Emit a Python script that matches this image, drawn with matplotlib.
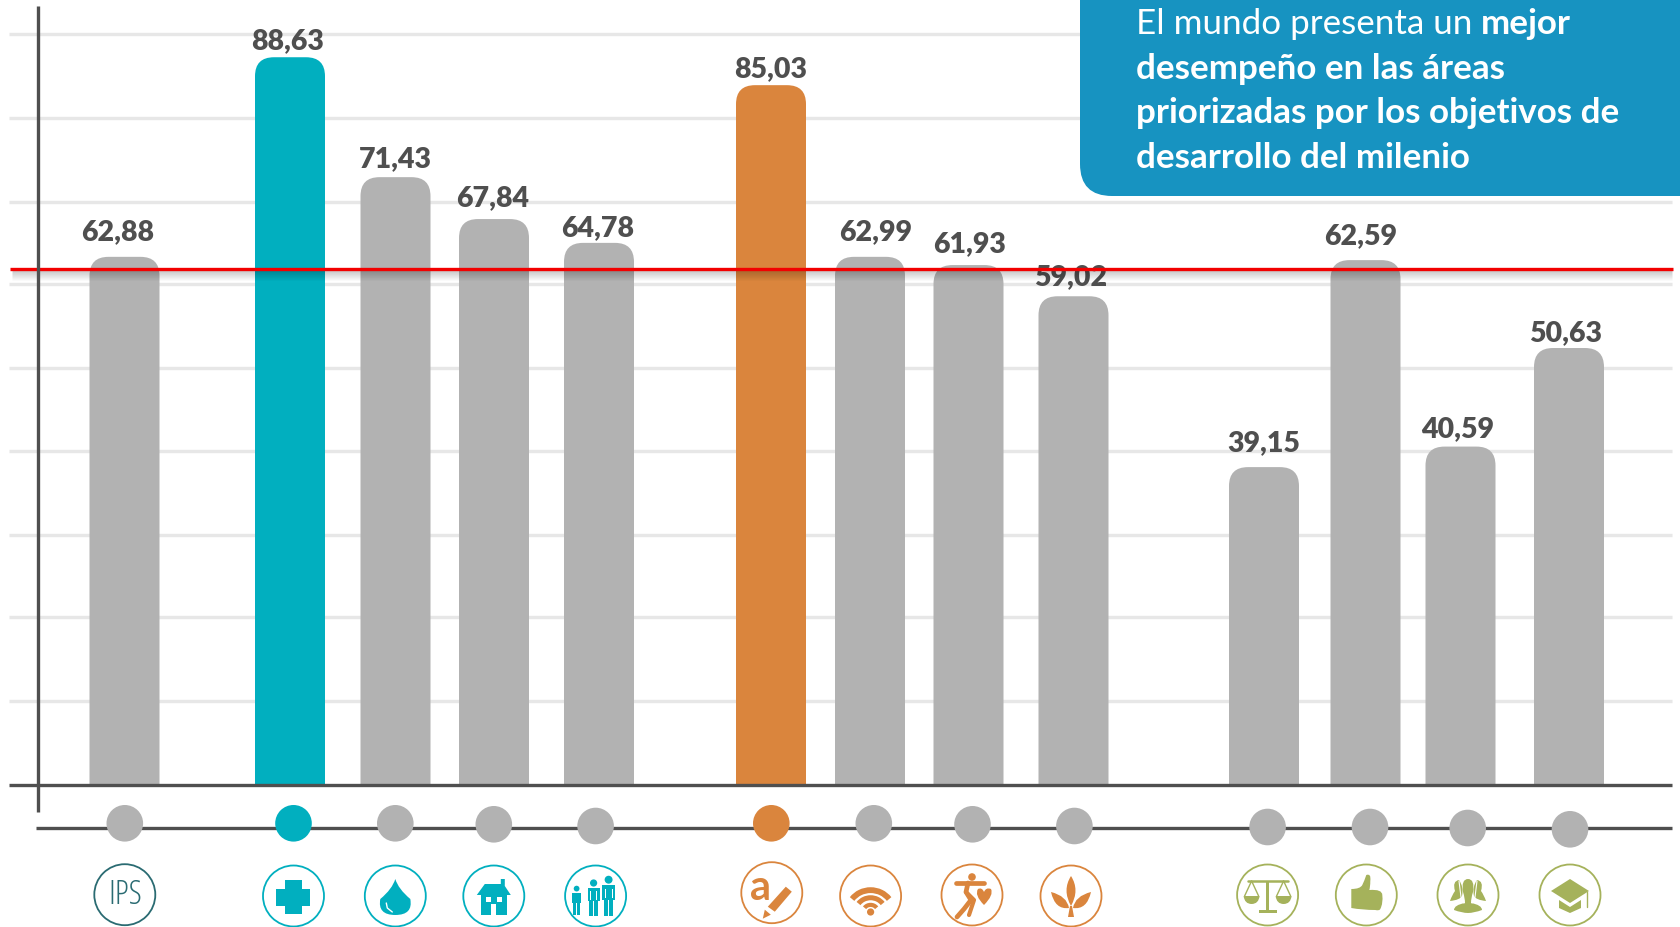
import matplotlib
matplotlib.use('Agg')
import matplotlib.pyplot as plt
from matplotlib.path import Path
from matplotlib.patches import PathPatch, Circle, Polygon, Rectangle, FancyBboxPatch, Arc

# values printed over the bars
labels = ['62,88', '88,63', '71,43', '67,84', '64,78', '85,03', '62,99', '61,93', '59,02',
          '39,15', '62,59', '40,59', '50,63']
# bar heights (the drawing does not follow its labels exactly)
heights = [64.3, 88.6, 74.0, 68.9, 66.0, 85.2, 64.3, 63.3, 59.5, 38.7, 63.9, 41.2, 53.2]
grid_levels = [10.2, 20.4, 30.4, 40.7, 50.8, 61.0, 71.0, 81.2, 91.4]
world_mean = 62.76

GRAY = '#B2B2B2'
TEAL = '#01AFBF'
ORANGE = '#DA853D'
GREEN = '#A5B25B'
DARK = '#4F4F4F'
IPS = '#2A6B72'
BOX = '#1793C1'
colors = [GRAY, TEAL, GRAY, GRAY, GRAY, ORANGE, GRAY, GRAY, GRAY, GRAY, GRAY, GRAY, GRAY]

# layout, in pixels of the 1681x927 picture
bar_x = [124.5, 290, 395.5, 494, 599, 771, 870, 968.5, 1073.5, 1264, 1365.5, 1460.5, 1569]
bar_w = 70
label_x = [118, 288, 395.5, 492.5, 598, 770.5, 875.5, 970, 1070.5, 1264, 1361, 1458, 1566]
label_up = [25, 16, 18, 21, 15, 16, 25, 21, 19, 24, 24, 17, 15]
dot_x = [124.8, 293.5, 395.3, 493.8, 595.6, 771.3, 873.8, 972.5, 1074.4, 1267.6, 1370, 1467.7, 1570]
dot_y = [823.3, 823.3, 823.3, 824.3, 826, 823.3, 823.3, 824.3, 826, 827, 827, 828, 829.3]
ring_x = [124.8, 293.5, 395.3, 493.8, 595.6, 771.8, 870.6, 972, 1071, 1267.6, 1366.3, 1468, 1570]
ring_y = [894.7, 896, 896, 896, 896, 892.7, 896, 895, 896, 895, 895, 895, 895]
ring_c = [IPS, TEAL, TEAL, TEAL, TEAL, ORANGE, ORANGE, ORANGE, ORANGE, GREEN, GREEN, GREEN, GREEN]

PX = 8.214  # pixels per unit of the bars
BASE = 785

plt.rcParams['font.family'] = ['Lato', 'DejaVu Sans']
fig = plt.figure(figsize=(16.81, 9.27), dpi=100)
ax = fig.add_axes([0, 0, 1, 1])
ax.set_xlim(0, 1681)
ax.set_ylim(-(927 - BASE) / PX, BASE / PX)
ax.axis('off')

# overlay in picture pixels, y going down
pa = fig.add_axes([0, 0, 1, 1])
pa.set_xlim(0, 1681)
pa.set_ylim(927, 0)
pa.axis('off')
pa.patch.set_alpha(0)


def rounded_bar(x, w, h, color, r=19):
    ry = r / PX
    l, t = x - w / 2, x + w / 2
    verts = [(l, 0), (l, h - ry), (l, h), (l + r, h), (t - r, h), (t, h), (t, h - ry), (t, 0), (l, 0)]
    codes = [Path.MOVETO, Path.LINETO, Path.CURVE3, Path.CURVE3, Path.LINETO,
             Path.CURVE3, Path.CURVE3, Path.LINETO, Path.CLOSEPOLY]
    ax.add_patch(PathPatch(Path(verts, codes), fc=color, ec='none', zorder=3))


for lv in grid_levels:
    ax.plot([9, 1672], [lv, lv], color='#E7E7E7', lw=2.4, solid_capstyle='butt', zorder=1)

for x, h, c in zip(bar_x, heights, colors):
    rounded_bar(x, bar_w, h, c)

for x, h, up, t in zip(label_x, heights, label_up, labels):
    ax.text(x, h + up / PX, t, ha='center', va='center', fontsize=20.5, fontweight='heavy',
            color=DARK, zorder=4)

# soft shadow under the red line
for i in range(1, 12):
    ax.plot([12, 1672], [world_mean - i / PX] * 2, color='black', alpha=0.22 * (1 - i / 12),
            lw=0.8, solid_capstyle='butt', zorder=5)
ax.plot([10, 1673], [world_mean, world_mean], color='#F20000', lw=2.4, solid_capstyle='butt', zorder=6)

# axes
ax.plot([9, 1672], [0, 0], color=DARK, lw=2.4, solid_capstyle='butt', zorder=7)
pa.plot([38.5, 38.5], [6, 812], color=DARK, lw=2.4, solid_capstyle='butt', zorder=1)
pa.plot([36.5, 1672], [827.7, 827.7], color=DARK, lw=2.4, solid_capstyle='butt', zorder=1)

for x, y, c in zip(dot_x, dot_y, colors):
    pa.add_patch(Circle((x, y), 18.3, fc=c, ec='none', zorder=2))
for x, y, c in zip(ring_x, ring_y, ring_c):
    pa.add_patch(Circle((x, y), 30.5, fc='white', ec=c, lw=1.3, zorder=2))


def poly(cx, cy, pts, c, z=3):
    pa.add_patch(Polygon([(cx + a, cy + b) for a, b in pts], closed=True, fc=c, ec='none', zorder=z))


def curve(cx, cy, pts, c, z=3):
    # first point then pairs of CURVE3 control/end points
    verts = [(cx + a, cy + b) for a, b in pts]
    codes = [Path.MOVETO] + [Path.CURVE3] * (len(pts) - 1)
    pa.add_patch(PathPatch(Path(verts, codes), fc=c, ec='none', zorder=z))


def rect(cx, cy, x0, y0, w, h, c, z=3):
    pa.add_patch(Rectangle((cx + x0, cy + y0), w, h, fc=c, ec='none', zorder=z))


def line(cx, cy, pts, c, lw=2.0, z=3):
    pa.plot([cx + p[0] for p in pts], [cy + p[1] for p in pts], color=c, lw=lw,
            solid_capstyle='round', solid_joinstyle='round', zorder=z)


def dot(cx, cy, x, y, r, c, z=3):
    pa.add_patch(Circle((cx + x, cy + y), r, fc=c, ec='none', zorder=z))


def person(cx, cy, x, y, s, c):
    dot(cx, cy, x, y - 13 * s, 3.6 * s, c)
    rect(cx, cy, x - 6 * s, y - 8 * s, 12 * s, 13 * s, c)
    rect(cx, cy, x - 4.4 * s, y + 3 * s, 3.6 * s, 17 * s, c)
    rect(cx, cy, x + 0.8 * s, y + 3 * s, 3.6 * s, 17 * s, c)
    rect(cx, cy, x - 3.6 * s, y - 5 * s, 0.9 * s, 9 * s, 'white', 4)
    rect(cx, cy, x + 2.7 * s, y - 5 * s, 0.9 * s, 9 * s, 'white', 4)


# IPS
pa.text(ring_x[0], ring_y[0] + 0.5, 'IPS', ha='center', va='center', fontsize=24, family='Open Sans',
        fontstretch='condensed', color=IPS, zorder=3)

# health cross
cx, cy = ring_x[1], ring_y[1] + 1
rect(cx, cy, -17, -8.5, 34, 17, TEAL)
rect(cx, cy, -8.5, -17, 17, 34, TEAL)

# water drop
cx, cy = ring_x[2], ring_y[2] + 1
curve(cx, cy, [(0, -18), (-3, -8), (-15, 2), (-18, 18), (0, 18), (18, 18), (15, 2), (3, -8), (0, -18)], TEAL)
line(cx, cy, [(-9, 6), (-8, 11), (-3, 15)], 'white', 1.0, 4)

# house
cx, cy = ring_x[3], ring_y[3] + 1
poly(cx, cy, [(-17, -2), (-9, -13), (7, -13), (7, -18), (11, -18), (11, -11), (17, -2)], TEAL)
rect(cx, cy, -13, -2, 26, 20, TEAL)
rect(cx, cy, -8, 0, 5, 5, 'white', 4)
rect(cx, cy, 3, 0, 5, 5, 'white', 4)
rect(cx, cy, -2.5, 7, 5, 11, 'white', 4)

# people
cx, cy = ring_x[4], ring_y[4]
person(cx, cy, -19, 3, 0.8, TEAL)
person(cx, cy, -2, 0, 1.0, TEAL)
person(cx, cy, 13, -2, 1.1, TEAL)

# letter and pencil
cx, cy = ring_x[5], ring_y[5]
pa.text(cx - 11, cy - 5, 'a', ha='center', va='center', fontsize=30, fontweight='bold', color=ORANGE, zorder=3)
poly(cx, cy, [(14, -6), (20, -1), (3, 19), (-4, 14)], ORANGE)
poly(cx, cy, [(-7, 17), (-1, 22), (-9, 26)], ORANGE)

# wifi
cx, cy = ring_x[6], ring_y[6]
for d, lw in [(46, 4.2), (30, 3.6), (15, 3.0)]:
    pa.add_patch(Arc((cx, cy + 16), d, d * 0.95, theta1=215, theta2=325, color=ORANGE, lw=lw, zorder=3))
dot(cx, cy, 0, 16, 3.6, ORANGE)

# runner with a heart
cx, cy = ring_x[7], ring_y[7]
dot(cx, cy, 0, -18, 3.8, ORANGE)
line(cx, cy, [(-16, -12), (12, -12)], ORANGE, 3.4)
line(cx, cy, [(-4, -12), (-6, -3), (-1, 5), (-8, 14), (-15, 22)], ORANGE, 3.4)
line(cx, cy, [(-6, -3), (2, 5), (-3, 20)], ORANGE, 3.0)
curve(cx, cy, [(12, 10), (2, 0), (6, -6), (10, -8), (12, -3), (14, -8), (19, -6), (22, 0), (12, 10)], ORANGE)

# leaves
cx, cy = ring_x[8], ring_y[8]
curve(cx, cy, [(0, -20), (-9, -6), (0, 10), (9, -6), (0, -20)], ORANGE)
curve(cx, cy, [(-20, -4), (-16, 14), (-2, 12), (-4, 0), (-20, -4)], ORANGE)
curve(cx, cy, [(20, -4), (16, 14), (2, 12), (4, 0), (20, -4)], ORANGE)
poly(cx, cy, [(-1, 10), (1, 10), (3, 21), (-3, 21)], ORANGE)

# scales of justice
cx, cy = ring_x[9], ring_y[9]
line(cx, cy, [(-20, -14), (20, -14)], GREEN, 1.8)
rect(cx, cy, -1.8, -14, 3.6, 30, GREEN)
rect(cx, cy, -9, 15, 18, 3.2, GREEN)
for s in (-1, 1):
    line(cx, cy, [(s * 16, -14), (s * 23, 1)], GREEN, 1.0)
    line(cx, cy, [(s * 16, -14), (s * 9, 1)], GREEN, 1.0)
    curve(cx, cy, [(s * 24, 1), (s * 23, 9), (s * 16, 9), (s * 9, 9), (s * 8, 1)], GREEN)

# thumb up
cx, cy = ring_x[10], ring_y[10]
curve(cx, cy, [(-15, -6), (-6, -6), (-4, -10), (-2, -14), (0, -20), (5, -22), (4, -14), (4, -8), (3, -5),
               (16, -6), (16, 0), (17, 8), (14, 14), (13, 16), (9, 15), (-4, 15), (-15, 13),
               (-15, 4), (-15, -6)], GREEN)

# people busts
cx, cy = ring_x[11], ring_y[11]
for s in (-1, 1):
    curve(cx, cy, [(s * 9, -15), (s * 16, -14), (s * 13, -4), (s * 16, 0), (s * 18, 6), (s * 8, 5), (s * 6, 1),
                   (s * 4, -8), (s * 9, -15)], GREEN)
curve(cx, cy, [(0, -16), (-7, -16), (-5, -3), (-3, 3), (-3, 8), (-14, 10), (-14, 15), (-6, 18), (0, 18),
               (6, 18), (14, 15), (14, 10), (3, 8), (3, 3), (5, -3), (7, -16), (0, -16)], GREEN, 4)
line(cx, cy, [(-9, -14), (-7, 2), (-4, 8)], 'white', 0.8, 4)
line(cx, cy, [(9, -14), (7, 2), (4, 8)], 'white', 0.8, 4)

# mortarboard
cx, cy = ring_x[12], ring_y[12]
poly(cx, cy, [(0, -16), (19, -4), (0, 8), (-19, -4)], GREEN)
poly(cx, cy, [(-11, 5), (0, 12), (11, 5), (11, 13), (0, 18), (-11, 13)], GREEN)
line(cx, cy, [(17, -3), (17, 12)], GREEN, 1.0)

# message box
pa.add_patch(FancyBboxPatch((1080, -60), 700, 256, boxstyle='round,pad=0,rounding_size=32',
                            fc=BOX, ec='none', zorder=8))
msg_size = 25.2
msg_x = 1136
first = pa.text(msg_x, 34, 'El mundo presenta un ', fontsize=msg_size, color='white', va='baseline', zorder=9)
first_w = first.get_window_extent(fig.canvas.get_renderer()).width  # 1 px per overlay unit
pa.text(msg_x + first_w, 34, 'mejor', fontsize=msg_size, fontweight='bold', color='white',
        va='baseline', zorder=9)
for y, t in zip([79, 123, 168], ['desempeño en las áreas', 'priorizadas por los objetivos de',
                                 'desarrollo del milenio']):
    pa.text(msg_x, y, t, fontsize=msg_size, fontweight='bold', color='white', va='baseline', zorder=9)

fig.savefig('out.png', dpi=100)
